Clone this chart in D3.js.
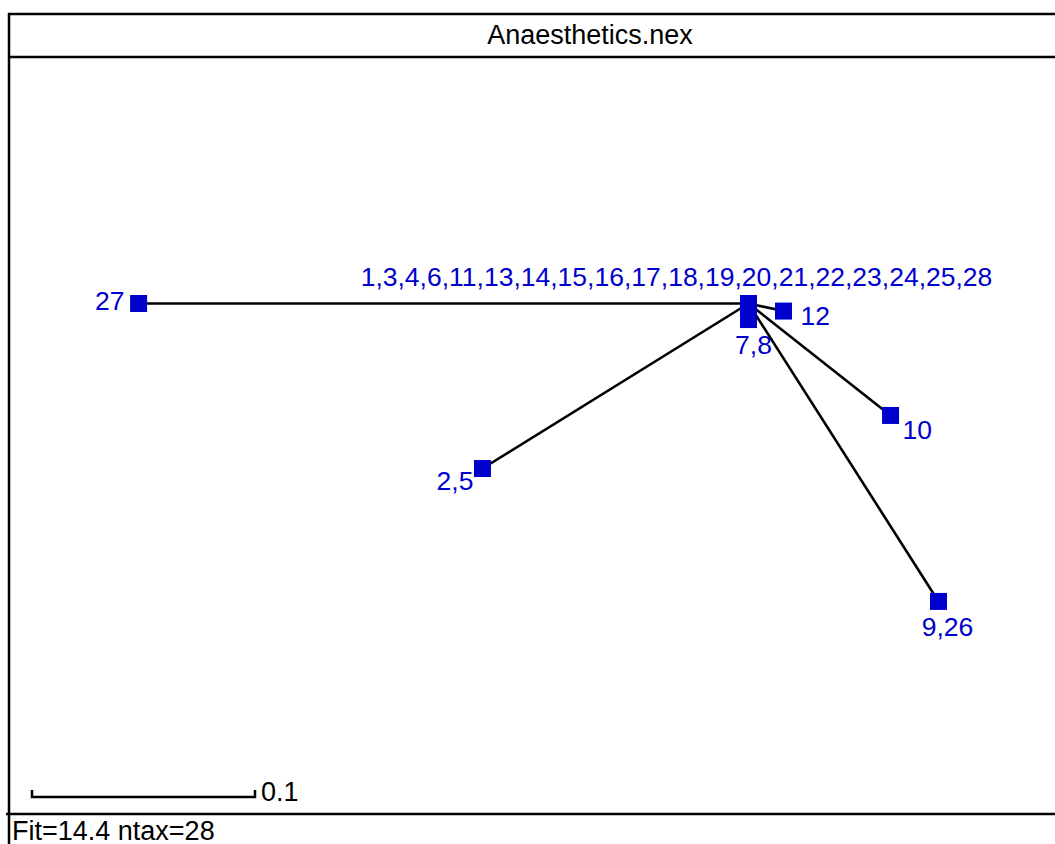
<!DOCTYPE html>
<html>
<head>
<meta charset="utf-8">
<script src="https://cdn.jsdelivr.net/npm/d3@7"></script>
<style>
  html, body { margin: 0; padding: 0; background: #fff; overflow: hidden; }
  svg { display: block; font-family: "Liberation Sans", Arial, sans-serif; }
</style>
</head>
<body>
<svg id="chart" width="1055" height="844"></svg>
<script>
// Split network nodes (coordinates in distance units, origin at the hub node)
const nodeIds = ["hub", "27", "12", "7,8", "2,5", "10", "9,26"];
const nodeX = [0, -0.2735, 0.0157, 0, -0.1193, 0.0637, 0.0852];
const nodeY = [0, 0, 0.0034, 0.0072, 0.0740, 0.0502, 0.1336];
const nodeLabels = [
  "1,3,4,6,11,13,14,15,16,17,18,19,20,21,22,23,24,25,28",
  "27", "12", "7,8", "2,5", "10", "9,26"
];
// Edges of the network as pairs of node indices
const edgeFrom = [0, 0, 0, 0, 0, 0];
const edgeTo = [1, 2, 3, 4, 5, 6];
// Scale bar length and its label
const scaleBarValue = 0.1;
const scaleBarLabel = "0.1";
const titleText = "Anaesthetics.nex";
const footerText = "Fit=14.4 ntax=28";

const W = 1055, H = 844;
const blue = "#0000cc";
const labelSize = 26.5;
const textSize = 27;

const svg = d3.select("#chart");

// One distance unit maps to the same pixel length on both axes
const pxPerUnit = 2230;
const hub = { x: 748.5, y: 303.5 };
const x = d3.scaleLinear().domain([0, 1]).range([hub.x, hub.x + pxPerUnit]);
const y = d3.scaleLinear().domain([0, 1]).range([hub.y, hub.y + pxPerUnit]);

// Frame: top border, title divider, bottom divider, left border
const frame = svg.append("g").attr("stroke", "#000").attr("stroke-width", 2.5);
frame.append("line").attr("x1", 8).attr("x2", W).attr("y1", 14).attr("y2", 14);
frame.append("line").attr("x1", 8).attr("x2", W).attr("y1", 57).attr("y2", 57);
frame.append("line").attr("x1", 6).attr("x2", W).attr("y1", 814).attr("y2", 814);
frame.append("line").attr("x1", 9).attr("x2", 9).attr("y1", 13).attr("y2", H);

svg.append("text")
  .attr("x", 590).attr("y", 44)
  .attr("text-anchor", "middle")
  .attr("font-size", textSize).attr("fill", "#000")
  .text(titleText);

svg.append("text")
  .attr("x", 12).attr("y", 840)
  .attr("font-size", textSize).attr("fill", "#000")
  .text(footerText);

const nodes = nodeIds.map((id, i) => ({ id, x: nodeX[i], y: nodeY[i], label: nodeLabels[i] }));

// Edges
svg.append("g")
  .attr("stroke", "#000").attr("stroke-width", 2.6)
  .selectAll("line")
  .data(edgeFrom.map((f, i) => [nodes[f], nodes[edgeTo[i]]]))
  .join("line")
  .attr("x1", d => x(d[0].x)).attr("y1", d => y(d[0].y))
  .attr("x2", d => x(d[1].x)).attr("y2", d => y(d[1].y));

// Node squares
const sq = 17;
svg.append("g")
  .attr("fill", blue)
  .selectAll("rect")
  .data(nodes)
  .join("rect")
  .attr("x", d => x(d.x) - sq / 2).attr("y", d => y(d.y) - sq / 2)
  .attr("width", sq).attr("height", sq);

// Label placement relative to each node: [dx, dy, anchor]
const labelPlace = {
  "hub": [-72, -18, "middle"],
  "27": [-14, 6, "end"],
  "12": [17, 14, "start"],
  "7,8": [5, 34, "middle"],
  "2,5": [-9, 21, "end"],
  "10": [12, 24, "start"],
  "9,26": [9, 35, "middle"]
};

svg.append("g")
  .attr("fill", blue).attr("font-size", labelSize)
  .selectAll("text")
  .data(nodes)
  .join("text")
  .attr("x", d => x(d.x) + labelPlace[d.id][0])
  .attr("y", d => y(d.y) + labelPlace[d.id][1])
  .attr("text-anchor", d => labelPlace[d.id][2])
  .text(d => d.label);

// Scale bar
const sbX0 = 32, sbY = 797;
const sbLen = x(scaleBarValue) - x(0);
svg.append("path")
  .attr("d", `M${sbX0},${sbY - 7}V${sbY}H${sbX0 + sbLen}V${sbY - 7}`)
  .attr("fill", "none").attr("stroke", "#000").attr("stroke-width", 2.5);
svg.append("text")
  .attr("x", sbX0 + sbLen + 6).attr("y", sbY + 4)
  .attr("font-size", textSize).attr("fill", "#000")
  .text(scaleBarLabel);
</script>
</body>
</html>
